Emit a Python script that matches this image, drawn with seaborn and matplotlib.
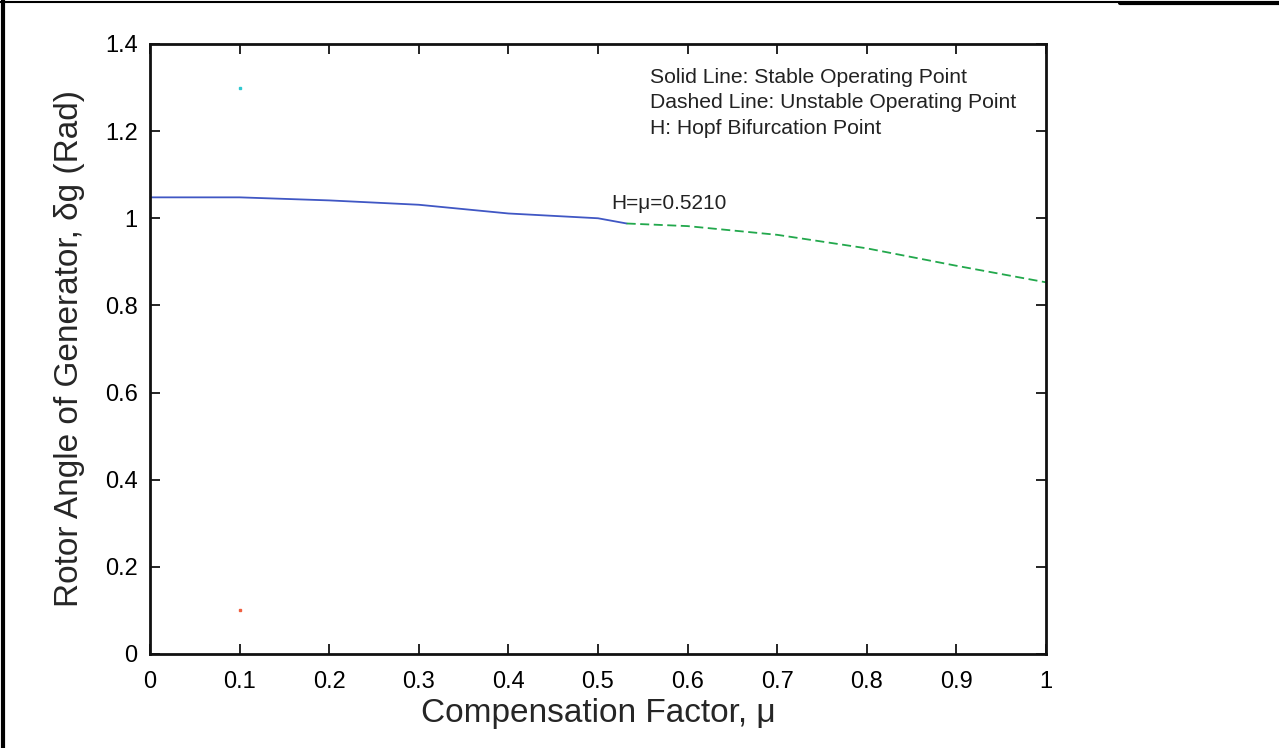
import matplotlib
matplotlib.use("Agg")
import matplotlib.pyplot as plt
from matplotlib.lines import Line2D
import seaborn as sns
import pandas as pd

# Operating points of the generator rotor angle versus compensation factor
stable_mu = [0.0, 0.1, 0.2, 0.3, 0.4, 0.5, 0.532]
stable_delta = [1.048, 1.048, 1.041, 1.031, 1.011, 1.000, 0.988]
unstable_mu = [0.532, 0.6, 0.7, 0.8, 0.9, 1.0]
unstable_delta = [0.988, 0.982, 0.962, 0.931, 0.891, 0.853]
marker_mu = [0.1, 0.1]
marker_delta = [1.3, 0.1]
x_ticks = [0, 0.1, 0.2, 0.3, 0.4, 0.5, 0.6, 0.7, 0.8, 0.9, 1]
x_tick_labels = ["0", "0.1", "0.2", "0.3", "0.4", "0.5", "0.6", "0.7", "0.8", "0.9", "1"]
y_ticks = [0, 0.2, 0.4, 0.6, 0.8, 1.0, 1.2, 1.4]
y_tick_labels = ["0", "0.2", "0.4", "0.6", "0.8", "1", "1.2", "1.4"]
hopf_mu = 0.5210
notes = ["Solid Line: Stable Operating Point",
         "Dashed Line: Unstable Operating Point",
         "H: Hopf Bifurcation Point"]

sns.set_style("ticks")
plt.rcParams["font.family"] = ["Liberation Sans", "DejaVu Sans"]

fig = plt.figure(figsize=(12.79, 7.48), dpi=100)
ax = fig.add_axes([0.1173, 0.1257, 0.7005, 0.8155])

stable = pd.DataFrame({"mu": stable_mu, "delta": stable_delta})
unstable = pd.DataFrame({"mu": unstable_mu, "delta": unstable_delta})

sns.lineplot(data=stable, x="mu", y="delta", ax=ax, color="#4057c4",
             linewidth=1.3, sort=False)
sns.lineplot(data=unstable, x="mu", y="delta", ax=ax, color="#22a84c",
             linewidth=1.3, sort=False, dashes=False)
ax.lines[-1].set_dashes([5, 2.5])

ax.plot(marker_mu[0], marker_delta[0], marker="s", markersize=1.5,
        color="#30c8d0", linestyle="none")
ax.plot(marker_mu[1], marker_delta[1], marker="s", markersize=1.5,
        color="#f06040", linestyle="none")

ax.text(hopf_mu - 0.006, 1.035, f"H=\u03bc={hopf_mu:.4f}", fontsize=15,
        ha="left", va="center", color="#222222")
for i, line in enumerate(notes):
    ax.text(0.558, 1.323 - i * 0.058, line, fontsize=15.2, ha="left",
            va="center", color="#222222")

ax.set_xlim(0, 1)
ax.set_ylim(0, 1.4)
ax.set_xticks(x_ticks)
ax.set_xticklabels(x_tick_labels)
ax.set_yticks(y_ticks)
ax.set_yticklabels(y_tick_labels)
ax.tick_params(axis="both", direction="in", length=7, width=1.2,
               labelsize=17, top=True, right=True, colors="black")
ax.tick_params(axis="x", pad=12)
ax.tick_params(axis="y", pad=9)
for spine in ax.spines.values():
    spine.set_visible(True)
    spine.set_linewidth(2.0)
    spine.set_color("#111111")

ax.set_xlabel("Compensation Factor, \u03bc", fontsize=24, labelpad=4)
ax.set_ylabel("Rotor Angle of Generator, \u03b4g (Rad)", fontsize=24,
              labelpad=14)

# Page frame around the figure
fig.add_artist(Line2D([3 / 1279, 3 / 1279], [0, 1], transform=fig.transFigure,
                      color="black", linewidth=3))
fig.add_artist(Line2D([0, 1120 / 1279], [1 - 1.5 / 748, 1 - 1.5 / 748],
                      transform=fig.transFigure, color="black", linewidth=1.5))
fig.add_artist(Line2D([1120 / 1279, 1], [1 - 2.5 / 748, 1 - 2.5 / 748],
                      transform=fig.transFigure, color="black", linewidth=3))

fig.savefig("out.png", dpi=100, facecolor="white")
